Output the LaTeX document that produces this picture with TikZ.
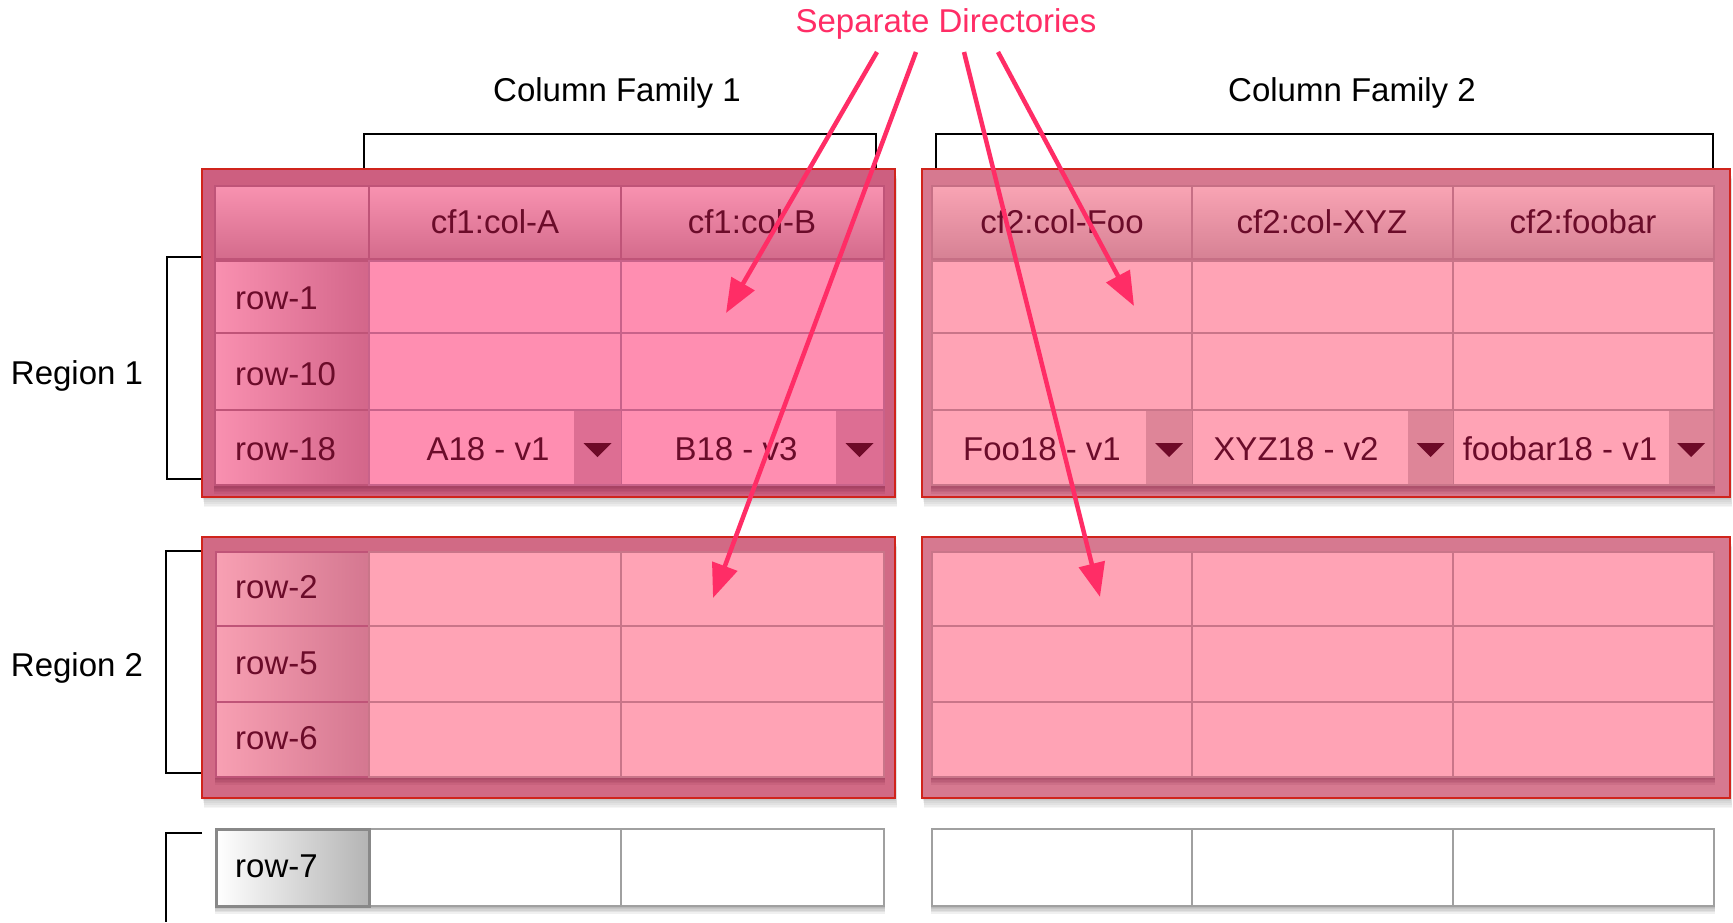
\documentclass[tikz,border=0pt]{standalone}
\usepackage{fontspec}
\setmainfont{Liberation Sans}
\usetikzlibrary{arrows.meta}
\definecolor{txtdark}{HTML}{6B0C2A}
\definecolor{arrowpink}{HTML}{FF2D66}
\definecolor{redline}{HTML}{D0241C}
\definecolor{frameA}{HTML}{CD5F80}
\definecolor{frameB}{HTML}{D67990}
\definecolor{frameC}{HTML}{D16A85}
\definecolor{cellA}{HTML}{FF8EB1}
\definecolor{cellB}{HTML}{FFA3B5}
\definecolor{gridA}{HTML}{C8628A}
\definecolor{gridB}{HTML}{C97589}
\definecolor{hdrTopA}{HTML}{F892B0}
\definecolor{hdrBotA}{HTML}{D46B8C}
\definecolor{hdrTopB}{HTML}{F9A4B4}
\definecolor{hdrBotB}{HTML}{D68194}
\definecolor{hdrLineA}{HTML}{BF5478}
\definecolor{hdrLineB}{HTML}{C66F85}
\definecolor{rhLeftA}{HTML}{F990B0}
\definecolor{rhRightA}{HTML}{D3668A}
\definecolor{rhLeftC}{HTML}{F8A0B3}
\definecolor{rhRightC}{HTML}{D47790}
\definecolor{ddA}{HTML}{DD6E93}
\definecolor{ddB}{HTML}{DE8598}
\definecolor{tricol}{HTML}{6E0A28}
\definecolor{shadowdark}{HTML}{7A1E40}
\definecolor{grayline}{HTML}{A0A0A0}
\definecolor{grayhdr}{HTML}{B4B4B4}

\newcommand\RedBox[5]{%
  \foreach \k in {1,...,6}{\fill[black,opacity=0.04] (#1+\k*0.4,#2+\k*1.7) rectangle (#3+\k*0.4,#4+\k*1.7);}
  \filldraw[fill=#5, draw=redline, line width=1.6pt] (#1,#2) rectangle (#3,#4);
}
\newcommand\TabShadow[4]{%
  \foreach \k in {1,...,5}{\fill[shadowdark,opacity=0.10] (#1-1,#2+\k*0.6) rectangle (#3+1,#4+\k*1.6);}
}
\newcommand\GrayShadow[4]{%
  \foreach \k in {1,...,5}{\fill[black,opacity=0.06] (#1-1,#2+\k*0.6) rectangle (#3+1,#4+\k*1.6);}
}
\newcommand\DropDown[3]{%
  \fill[#3] (#1,411) rectangle (#2,484);
  \fill[tricol] ({(#1+#2)/2-14},443) -- ({(#1+#2)/2+14},443) -- ({(#1+#2)/2},457) -- cycle;
}

\begin{document}
\begin{tikzpicture}[x=1pt,y=-1pt,
  lbl/.style={font=\fontsize{33}{40}\selectfont, inner sep=0pt, text=txtdark},
  blk/.style={font=\fontsize{33}{40}\selectfont, inner sep=0pt, text=black},
  brk/.style={draw=black, line width=1.5pt},
  arr/.style={draw=arrowpink, line width=4.5pt, -{Triangle[length=34pt,width=26pt]}},
]
\useasboundingbox (0,0) rectangle (1733,922);
\fill[white] (0,0) rectangle (1733,922);

% ---------- titles ----------
\node[font=\fontsize{33}{40}\selectfont, text=arrowpink, inner sep=0pt] (sep) at (946,24) {Separate Directories};
\node[blk] (cfa) at (617,93) {Column Family 1};
\node[blk] (cfb) at (1352,93) {Column Family 2};
\node[blk] (rega) at (77,376) {Region 1};
\node[blk] (regb) at (77,668) {Region 2};

% ---------- brackets ----------
\draw[brk] (364,169) -- (364,134) -- (876,134) -- (876,169);
\draw[brk] (936,169) -- (936,134) -- (1713,134) -- (1713,169);
\draw[brk] (202,257) -- (167,257) -- (167,479) -- (202,479);
\draw[brk] (202,551) -- (166,551) -- (166,773) -- (202,773);
\draw[brk] (202,833) -- (166,833) -- (166,922);

% ---------- Region 1, CF1 ----------
\RedBox{202}{169}{895}{497}{frameA}
\TabShadow{215}{186}{884}{486}
% header
\shade[top color=hdrTopA, bottom color=hdrBotA] (215,186) rectangle (884,259);
\draw[hdrLineA, line width=2.5pt] (215,186) rectangle (369,259) (369,186) rectangle (621,259) (621,186) rectangle (884,259);
\node[lbl] (h1a) at (495,222) {cf1:col-A};
\node[lbl] (h1b) at (752,222) {cf1:col-B};
% row headers
\foreach \ya/\yb in {261/333, 333/410, 410/485}{
  \shade[left color=rhLeftA, right color=rhRightA] (215,\ya) rectangle (369,\yb);
  \draw[hdrLineA, line width=2pt] (215,\ya) rectangle (369,\yb);
}
% data cells
\filldraw[fill=cellA, draw=gridA, line width=1.5pt] (369,261) rectangle (621,333) (621,261) rectangle (884,333)
  (369,333) rectangle (621,410) (621,333) rectangle (884,410)
  (369,410) rectangle (621,485) (621,410) rectangle (884,485);
\DropDown{574}{621}{ddA}
\DropDown{836}{883}{ddA}
\node[lbl, anchor=west] (r1) at (235,298) {row-1};
\node[lbl, anchor=west] (r10) at (235,374) {row-10};
\node[lbl, anchor=west] (r18) at (235,449) {row-18};
\node[lbl] (va) at (488,449) {A18 - v1};
\node[lbl] (vb) at (736,449) {B18 - v3};

% ---------- Region 1, CF2 ----------
\RedBox{922}{169}{1730}{497}{frameB}
\TabShadow{932}{186}{1714}{486}
\shade[top color=hdrTopB, bottom color=hdrBotB] (932,186) rectangle (1714,259);
\draw[hdrLineB, line width=2.5pt] (932,186) rectangle (1192,259) (1192,186) rectangle (1453,259) (1453,186) rectangle (1714,259);
\node[lbl] (h2a) at (1062,222) {cf2:col-Foo};
\node[lbl] (h2b) at (1322,222) {cf2:col-XYZ};
\node[lbl] (h2c) at (1583,222) {cf2:foobar};
\filldraw[fill=cellB, draw=gridB, line width=1.5pt]
  (932,261) rectangle (1192,333) (1192,261) rectangle (1453,333) (1453,261) rectangle (1714,333)
  (932,333) rectangle (1192,410) (1192,333) rectangle (1453,410) (1453,333) rectangle (1714,410)
  (932,410) rectangle (1192,485) (1192,410) rectangle (1453,485) (1453,410) rectangle (1714,485);
\DropDown{1146}{1192}{ddB}
\DropDown{1408}{1453}{ddB}
\DropDown{1669}{1713}{ddB}
\node[lbl] (vfoo) at (1042,449) {Foo18 - v1};
\node[lbl] (vxyz) at (1296,449) {XYZ18 - v2};
\node[lbl] (vfb) at (1560,449) {foobar18 - v1};

% ---------- Region 2, CF1 ----------
\RedBox{202}{537}{895}{798}{frameC}
\TabShadow{216}{552}{884}{777}
\foreach \ya/\yb in {552/626, 626/702, 702/777}{
  \shade[left color=rhLeftC, right color=rhRightC] (216,\ya) rectangle (369,\yb);
  \draw[hdrLineA, line width=2pt] (216,\ya) rectangle (369,\yb);
}
\filldraw[fill=cellB, draw=gridB, line width=1.5pt]
  (369,552) rectangle (621,626) (621,552) rectangle (884,626)
  (369,626) rectangle (621,702) (621,626) rectangle (884,702)
  (369,702) rectangle (621,777) (621,702) rectangle (884,777);
\node[lbl, anchor=west] (r2) at (235,587) {row-2};
\node[lbl, anchor=west] (r5) at (235,663) {row-5};
\node[lbl, anchor=west] (r6) at (235,738) {row-6};

% ---------- Region 2, CF2 ----------
\RedBox{922}{537}{1730}{798}{frameB}
\TabShadow{932}{552}{1714}{777}
\filldraw[fill=cellB, draw=gridB, line width=1.5pt]
  (932,552) rectangle (1192,626) (1192,552) rectangle (1453,626) (1453,552) rectangle (1714,626)
  (932,626) rectangle (1192,702) (1192,626) rectangle (1453,702) (1453,626) rectangle (1714,702)
  (932,702) rectangle (1192,777) (1192,702) rectangle (1453,777) (1453,702) rectangle (1714,777);

% ---------- Row 7 ----------
\GrayShadow{216}{829}{884}{906}
\GrayShadow{932}{829}{1714}{906}
\filldraw[fill=white, draw=grayline, line width=2pt]
  (369,829) rectangle (621,906) (621,829) rectangle (884,906)
  (932,829) rectangle (1192,906) (1192,829) rectangle (1453,906) (1453,829) rectangle (1714,906);
\shade[left color=white, right color=grayhdr] (216,829) rectangle (369,906);
\draw[grayline!85!black, line width=3pt] (216,829) rectangle (369,906);
\node[blk, anchor=west] (r7) at (235,866) {row-7};

% ---------- arrows ----------
\coordinate (s1) at (877,52);
\coordinate (s2) at (916,52);
\coordinate (s3) at (964,52);
\coordinate (s4) at (998,52);
\coordinate (t1) at (726,313);
\coordinate (t2) at (713,598);
\coordinate (t3) at (1100,597);
\coordinate (t4) at (1134,306);
\draw[arr] (s1) -- (t1);
\draw[arr] (s2) -- (t2);
\draw[arr] (s3) -- (t3);
\draw[arr] (s4) -- (t4);
\end{tikzpicture}
\end{document}
